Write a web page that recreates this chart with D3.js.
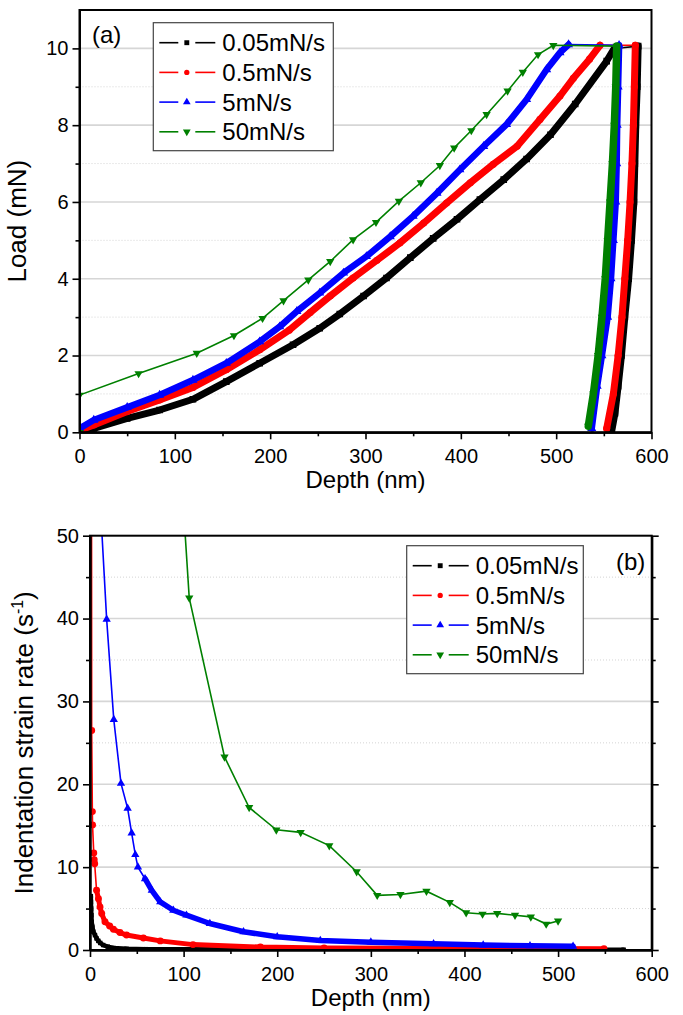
<!DOCTYPE html>
<html><head><meta charset="utf-8">
<script src="https://cdn.jsdelivr.net/npm/d3@7"></script>
<style>body{margin:0;background:#fff}text{font-family:"Liberation Sans",Arial,sans-serif;fill:#000}</style>
</head><body><svg id="c" width="683" height="1015"></svg>
<script>
// ---------- data ----------
const seriesNames = ["0.05mN/s", "0.5mN/s", "5mN/s", "50mN/s"];
const depthTicks = [0, 100, 200, 300, 400, 500, 600];
const depthMinor = [50, 150, 250, 350, 450, 550];
const loadTicks = [0, 2, 4, 6, 8, 10];
const loadMinor = [1, 3, 5, 7, 9];
const rateTicks = [0, 10, 20, 30, 40, 50];
const rateMinor = [5, 15, 25, 35, 45];

// (a) load-depth: [depth nm, load mN]
const load005 = [[0,0],[15,0.1],[50,0.36],[84,0.58],[119,0.86],[154,1.32],[189,1.80],[224,2.28],[252,2.71],[273,3.08],[298,3.55],[322,4.02],[347,4.55],[371,5.05],[396,5.55],[420,6.06],[445,6.58],[469,7.12],[494,7.75],[520,8.55],[553,9.67],[561,10.0]];
const unload005 = [[586,10.06],[585,9],[583.5,8],[582.5,7],[581.5,6],[579,5],[576,4],[572,3],[568.5,2],[565,1.2],[561.7,0.5],[558,0]];
const load05 = [[0,0.05],[15,0.19],[50,0.54],[84,0.84],[119,1.17],[154,1.63],[189,2.15],[220,2.66],[242,3.12],[263,3.55],[287,4.02],[312,4.48],[336,4.93],[361,5.45],[385,5.97],[410,6.50],[434,6.98],[459,7.45],[483,8.15],[504,8.76],[518,9.22],[535,9.72],[546,10.08]];
const unload05 = [[583,10.08],[582,9],[581,8],[579.5,7],[577.5,6],[575,5],[572,4],[569,3],[565,2],[560,1],[553,0.1]];
const load5 = [[0,0.1],[15,0.32],[50,0.65],[84,0.97],[119,1.36],[154,1.80],[189,2.36],[210,2.75],[228,3.15],[252,3.63],[277,4.15],[301,4.58],[326,5.10],[350,5.63],[375,6.23],[399,6.84],[424,7.45],[448,8.02],[469,8.67],[490,9.45],[504,9.89],[513,10.1]];
const unload5 = [[566,10.08],[565,9],[564,8],[563.5,7],[562.5,6],[560,5],[557.5,4],[554,3],[548,2],[543,1.2],[537.3,0.1]];
const load50 = [[0,0],[0,0.97],[62,1.53],[123,2.06],[162,2.52],[192,2.97],[214,3.43],[240,3.97],[263,4.45],[287,5.02],[311,5.47],[335,6.02],[358,6.50],[378,6.95],[393,7.41],[411,7.86],[427,8.28],[449,8.89],[465,9.38],[481,9.84],[497,10.08]];
const unload50 = [[563.5,10.06],[562.5,9],[561,8],[559,7],[556.5,6],[554,5],[551.5,4],[548,3],[544,2],[539,1],[533.7,0.16]];

// (b) strain rate-depth: [depth nm, rate 1/s]
const rate005 = [[0.9,6.5],[1.0,5.8],[1.2,5.0],[1.5,4.2],[1.8,3.4],[2.5,2.8],[3.6,2.2],[5.3,1.8],[7,1.4],[8.9,1.1],[11,0.85],[14,0.6],[19,0.4],[25,0.25],[39,0.15],[60,0.1],[100,0.08],[200,0.06],[300,0.05],[400,0.05],[500,0.04],[570,0.04]];
const rate05 = [[1.5,80],[1.8,26.5],[2.5,16.7],[2.7,15.1],[4,11.7],[4.5,10.9],[5,10.4],[7,7.2],[9,6.2],[10.7,5.2],[12.5,4.4],[16,3.4],[21,2.9],[25,2.5],[32,2.1],[39,1.8],[57,1.45],[75,1.1],[110,0.65],[182,0.35],[250,0.25],[350,0.2],[450,0.17],[549,0.15]];
const rate5 = [[8,60],[17.8,39.9],[25.4,27.8],[33.1,20.1],[40.2,17.1],[44.5,14.1],[48.4,11.5],[51.2,10.0],[58.8,8.6],[66,7.2],[75,5.8],[89,4.8],[103,4.2],[128,3.2],[164,2.2],[200,1.6],[246,1.15],[300,0.95],[367,0.75],[420,0.6],[470,0.5],[516,0.45]];
const rate50 = [[62,120],[106,42.5],[143.7,23.3],[170,17.2],[199,14.5],[225,14.2],[255.6,12.6],[284.8,9.45],[306.8,6.6],[331.6,6.7],[359.4,7.1],[384.3,5.75],[401.8,4.5],[419.3,4.34],[435,4.42],[454,4.2],[470.9,4.0],[487.3,3.13],[500,3.5]];

// ---------- styles ----------
const styles = [
  {color:"#000000", sym:d3.symbolSquare, size:40, legSize:24, rot:0},
  {color:"#ff0000", sym:d3.symbolCircle, size:38, legSize:22, rot:0},
  {color:"#0000ff", sym:d3.symbolTriangle, size:30, legSize:26, rot:0},
  {color:"#008000", sym:d3.symbolTriangle, size:30, legSize:26, rot:180}
];

const svg = d3.select("#c");
const FONT = '"Liberation Sans", Arial, sans-serif';

function panel(cfg) {
  const x = d3.scaleLinear().domain([0,600]).range([cfg.left, cfg.right]);
  const y = d3.scaleLinear().domain(cfg.yDomain).range([cfg.bottom, cfg.top]);
  const g = svg.append("g");
  // grid
  g.selectAll(null).data(cfg.yMinor).join("line")
    .attr("x1", cfg.left).attr("x2", cfg.right).attr("y1", d=>y(d)).attr("y2", d=>y(d))
    .attr("stroke", "#d4d4d4").attr("stroke-width", 1).attr("stroke-dasharray", "1,2");
  g.selectAll(null).data(cfg.yTicks.filter(d=>d>cfg.yDomain[0] && d<cfg.yDomain[1])).join("line")
    .attr("x1", cfg.left).attr("x2", cfg.right).attr("y1", d=>y(d)).attr("y2", d=>y(d))
    .attr("stroke", "#d6d6d6").attr("stroke-width", 1.6);
  const clipId = "clip" + cfg.id;
  svg.append("clipPath").attr("id", clipId).append("rect")
    .attr("x", cfg.left).attr("y", cfg.top).attr("width", cfg.right-cfg.left).attr("height", cfg.bottom-cfg.top);
  const sg = g.append("g").attr("clip-path", `url(#${clipId})`);
  const line = d3.line().x(d=>x(d[0])).y(d=>y(d[1]));
  cfg.series.forEach((s, i) => {
    const st = styles[i];
    const all = s.parts.flat();
    sg.append("path").attr("d", line(all)).attr("fill","none").attr("stroke", st.color).attr("stroke-width", 1.6);
    s.bands.forEach(b => {
      sg.append("path").attr("d", line(b)).attr("fill","none").attr("stroke", st.color)
        .attr("stroke-width", s.bandW).attr("stroke-linejoin","round").attr("stroke-linecap","round");
    });
    sg.selectAll(null).data(all).join("path")
      .attr("transform", d=>`translate(${x(d[0])},${y(d[1])}) rotate(${st.rot})`)
      .attr("d", d3.symbol(st.sym, s.mSize || st.size)).attr("fill", st.color);
  });
  // axes
  g.append("g").attr("transform", `translate(0,${cfg.bottom})`)
    .call(d3.axisBottom(x).tickValues(depthTicks).tickSize(7).tickSizeOuter(0).tickPadding(10));
  g.append("g").attr("transform", `translate(0,${cfg.bottom})`)
    .call(d3.axisBottom(x).tickValues(depthMinor).tickSize(4).tickSizeOuter(0).tickFormat(""));
  g.append("g").attr("transform", `translate(${cfg.left},0)`)
    .call(d3.axisLeft(y).tickValues(cfg.yTicks).tickSize(7).tickSizeOuter(0).tickPadding(4));
  g.append("g").attr("transform", `translate(${cfg.left},0)`)
    .call(d3.axisLeft(y).tickValues(cfg.yMinor).tickSize(4).tickSizeOuter(0).tickFormat(""));
  if (cfg.rightTicks) {
    g.append("g").attr("transform", `translate(${cfg.right},0)`)
      .call(d3.axisRight(y).tickValues(cfg.yTicks).tickSize(7).tickSizeOuter(0).tickFormat(""));
    g.append("g").attr("transform", `translate(${cfg.right},0)`)
      .call(d3.axisRight(y).tickValues(cfg.yMinor).tickSize(4).tickSizeOuter(0).tickFormat(""));
  }
  g.selectAll(".domain").attr("stroke","#000").attr("stroke-width", 2);
  g.selectAll(".tick line").attr("stroke","#000").attr("stroke-width", 1.6);
  g.selectAll(".tick text").attr("font-family", FONT).attr("font-size", 20).attr("fill","#000");
  // frame
  g.append("rect").attr("x", cfg.left).attr("y", cfg.top).attr("width", cfg.right-cfg.left)
    .attr("height", cfg.bottom-cfg.top).attr("fill","none").attr("stroke","#000").attr("stroke-width", 2);
  // titles
  g.append("text").attr("x", (cfg.left+cfg.right)/2).attr("y", cfg.bottom + 56).attr("text-anchor","middle")
    .attr("font-size", 24).text("Depth (nm)");
  const yt = g.append("text").attr("transform", `translate(${cfg.yTitleX},${(cfg.top+cfg.bottom)/2}) rotate(-90)`)
    .attr("text-anchor","middle").attr("font-size", 26);
  cfg.yTitle(yt);
  g.append("text").attr("x", cfg.tagX).attr("y", cfg.tagY).attr("font-size", 24).text(cfg.tag);
  // legend
  const L = cfg.legend;
  const lg = g.append("g");
  lg.append("rect").attr("x", L.x).attr("y", L.y).attr("width", L.w).attr("height", L.h)
    .attr("fill","#fff").attr("stroke","#444").attr("stroke-width", 1.2);
  seriesNames.forEach((name, i) => {
    const st = styles[i];
    const cy = L.y + 20 + i * 29.7;
    lg.append("line").attr("x1", L.x+6).attr("x2", L.x+25).attr("y1", cy).attr("y2", cy).attr("stroke", st.color).attr("stroke-width", 1.6);
    lg.append("line").attr("x1", L.x+42).attr("x2", L.x+62).attr("y1", cy).attr("y2", cy).attr("stroke", st.color).attr("stroke-width", 1.6);
    lg.append("path").attr("transform", `translate(${L.x+33.5},${cy}) rotate(${st.rot})`)
      .attr("d", d3.symbol(st.sym, st.legSize)).attr("fill", st.color);
    lg.append("text").attr("x", L.x+69).attr("y", cy + 8.5).attr("font-size", 24).text(name);
  });
}

panel({
  id: "a", left: 79.5, right: 651.5, top: 10, bottom: 432.3, yDomain: [0, 11],
  yTicks: loadTicks, yMinor: loadMinor, rightTicks: false,
  series: [
    {parts:[load005, unload005], bands:[load005, unload005], bandW:7, mSize:44},
    {parts:[load05, unload05], bands:[load05, unload05], bandW:7, mSize:40},
    {parts:[load5, unload5], bands:[load5, unload5], bandW:6.5, mSize:36},
    {parts:[load50, unload50], bands:[unload50], bandW:7.5}
  ],
  yTitleX: 26, yTitle: t => t.text("Load (mN)"),
  tag: "(a)", tagX: 92, tagY: 43,
  legend: {x: 153.3, y: 22.7, w: 180, h: 128}
});

panel({
  id: "b", left: 90, right: 651.7, top: 535.7, bottom: 950, yDomain: [0, 50],
  yTicks: rateTicks, yMinor: rateMinor, rightTicks: true,
  series: [
    {parts:[rate005], bands:[rate005], bandW:4.5, mSize:20},
    {parts:[rate05], bands:[rate05.slice(7)], bandW:5},
    {parts:[rate5], bands:[rate5.slice(8)], bandW:5.5},
    {parts:[rate50], bands:[]}
  ],
  yTitleX: 33,
  yTitle: t => { t.append("tspan").text("Indentation strain rate (s");
                 t.append("tspan").attr("font-size", 16).attr("dy", -10).text("-1");
                 t.append("tspan").attr("dy", 10).text(")"); },
  tag: "(b)", tagX: 616, tagY: 570,
  legend: {x: 406.7, y: 545.7, w: 176.6, h: 128}
});
</script></body></html>
